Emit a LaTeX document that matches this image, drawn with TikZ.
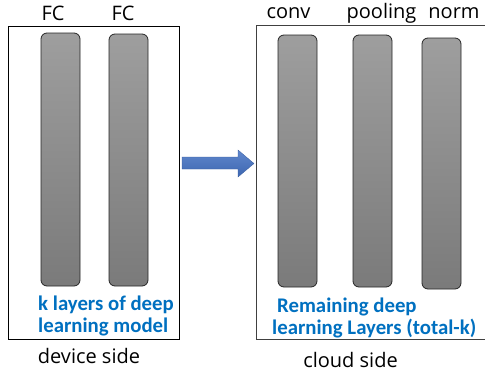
\documentclass[tikz,border=0pt]{standalone}
\usepackage{fontspec}
\setmainfont{Carlito}
\newfontfamily\labelfont{Open Sans}
\definecolor{txtblue}{HTML}{0070C0}
\definecolor{arrblue}{HTML}{4472C4}
\tikzset{
  box/.style={draw=black, line width=1pt, inner sep=0pt},
  bar/.style={draw=black!85, line width=0.8pt, rounded corners=6pt, minimum width=39pt, inner sep=0pt,
    top color=black!38, bottom color=black!52},
  lbl/.style={font=\labelfont\fontsize{20}{24}\selectfont, inner sep=0pt, text=black, anchor=base},
  blue/.style={font=\fontsize{20.8}{22}\selectfont\bfseries, text=txtblue, inner sep=0pt, align=left},
  bigarrow/.style={top color=arrblue!85!white, bottom color=arrblue!90!black, draw=arrblue!80!black, line width=0.3pt}
}
\begin{document}
\begin{tikzpicture}[x=1pt,y=-1pt]
\useasboundingbox (0,0) rectangle (485,375);
\clip (0,0) rectangle (485,375);
% boxes
\node[box, minimum width=171pt, minimum height=313pt] (dev) at (93.5,182.5) {};
\node[box, draw=black!75, minimum width=234pt, minimum height=314pt] (cloud) at (373,182) {};
% bars
\node[bar, minimum height=253pt] (l1) at (60.5,159.5) {};
\node[bar, minimum height=252pt] (l2) at (128.5,160) {};
\node[bar, minimum height=252pt] (r1) at (297.5,161) {};
\node[bar, minimum height=252pt] (r2) at (372.5,161) {};
\node[bar, minimum height=251pt] (r3) at (441.5,163.5) {};
% top labels
\node[lbl] (fc1) at (53,20) {FC};
\node[lbl] (fc2) at (123,20) {FC};
\node[lbl] (conv) at (288.5,18) {conv};
\node[lbl] (pool) at (381.5,18) {pooling};
\node[lbl] (norm) at (454,18) {norm};
% blue texts
\node[blue, anchor=west] (kl) at (38,316) {k layers of deep\\learning model};
\node[blue, anchor=west] (rem) at (272,317.5) {\hspace*{5pt}Remaining deep\\learning Layers (total-k)};
% bottom labels
\node[lbl] (devl) at (89,363) {device side};
\node[lbl] (cldl) at (350.5,367) {cloud side};
% block arrow
\draw[bigarrow] (182,157) -- (238,157) -- (238,150) -- (254,163.5) -- (238,177) -- (238,169) -- (182,169) -- cycle;
\end{tikzpicture}
\end{document}
